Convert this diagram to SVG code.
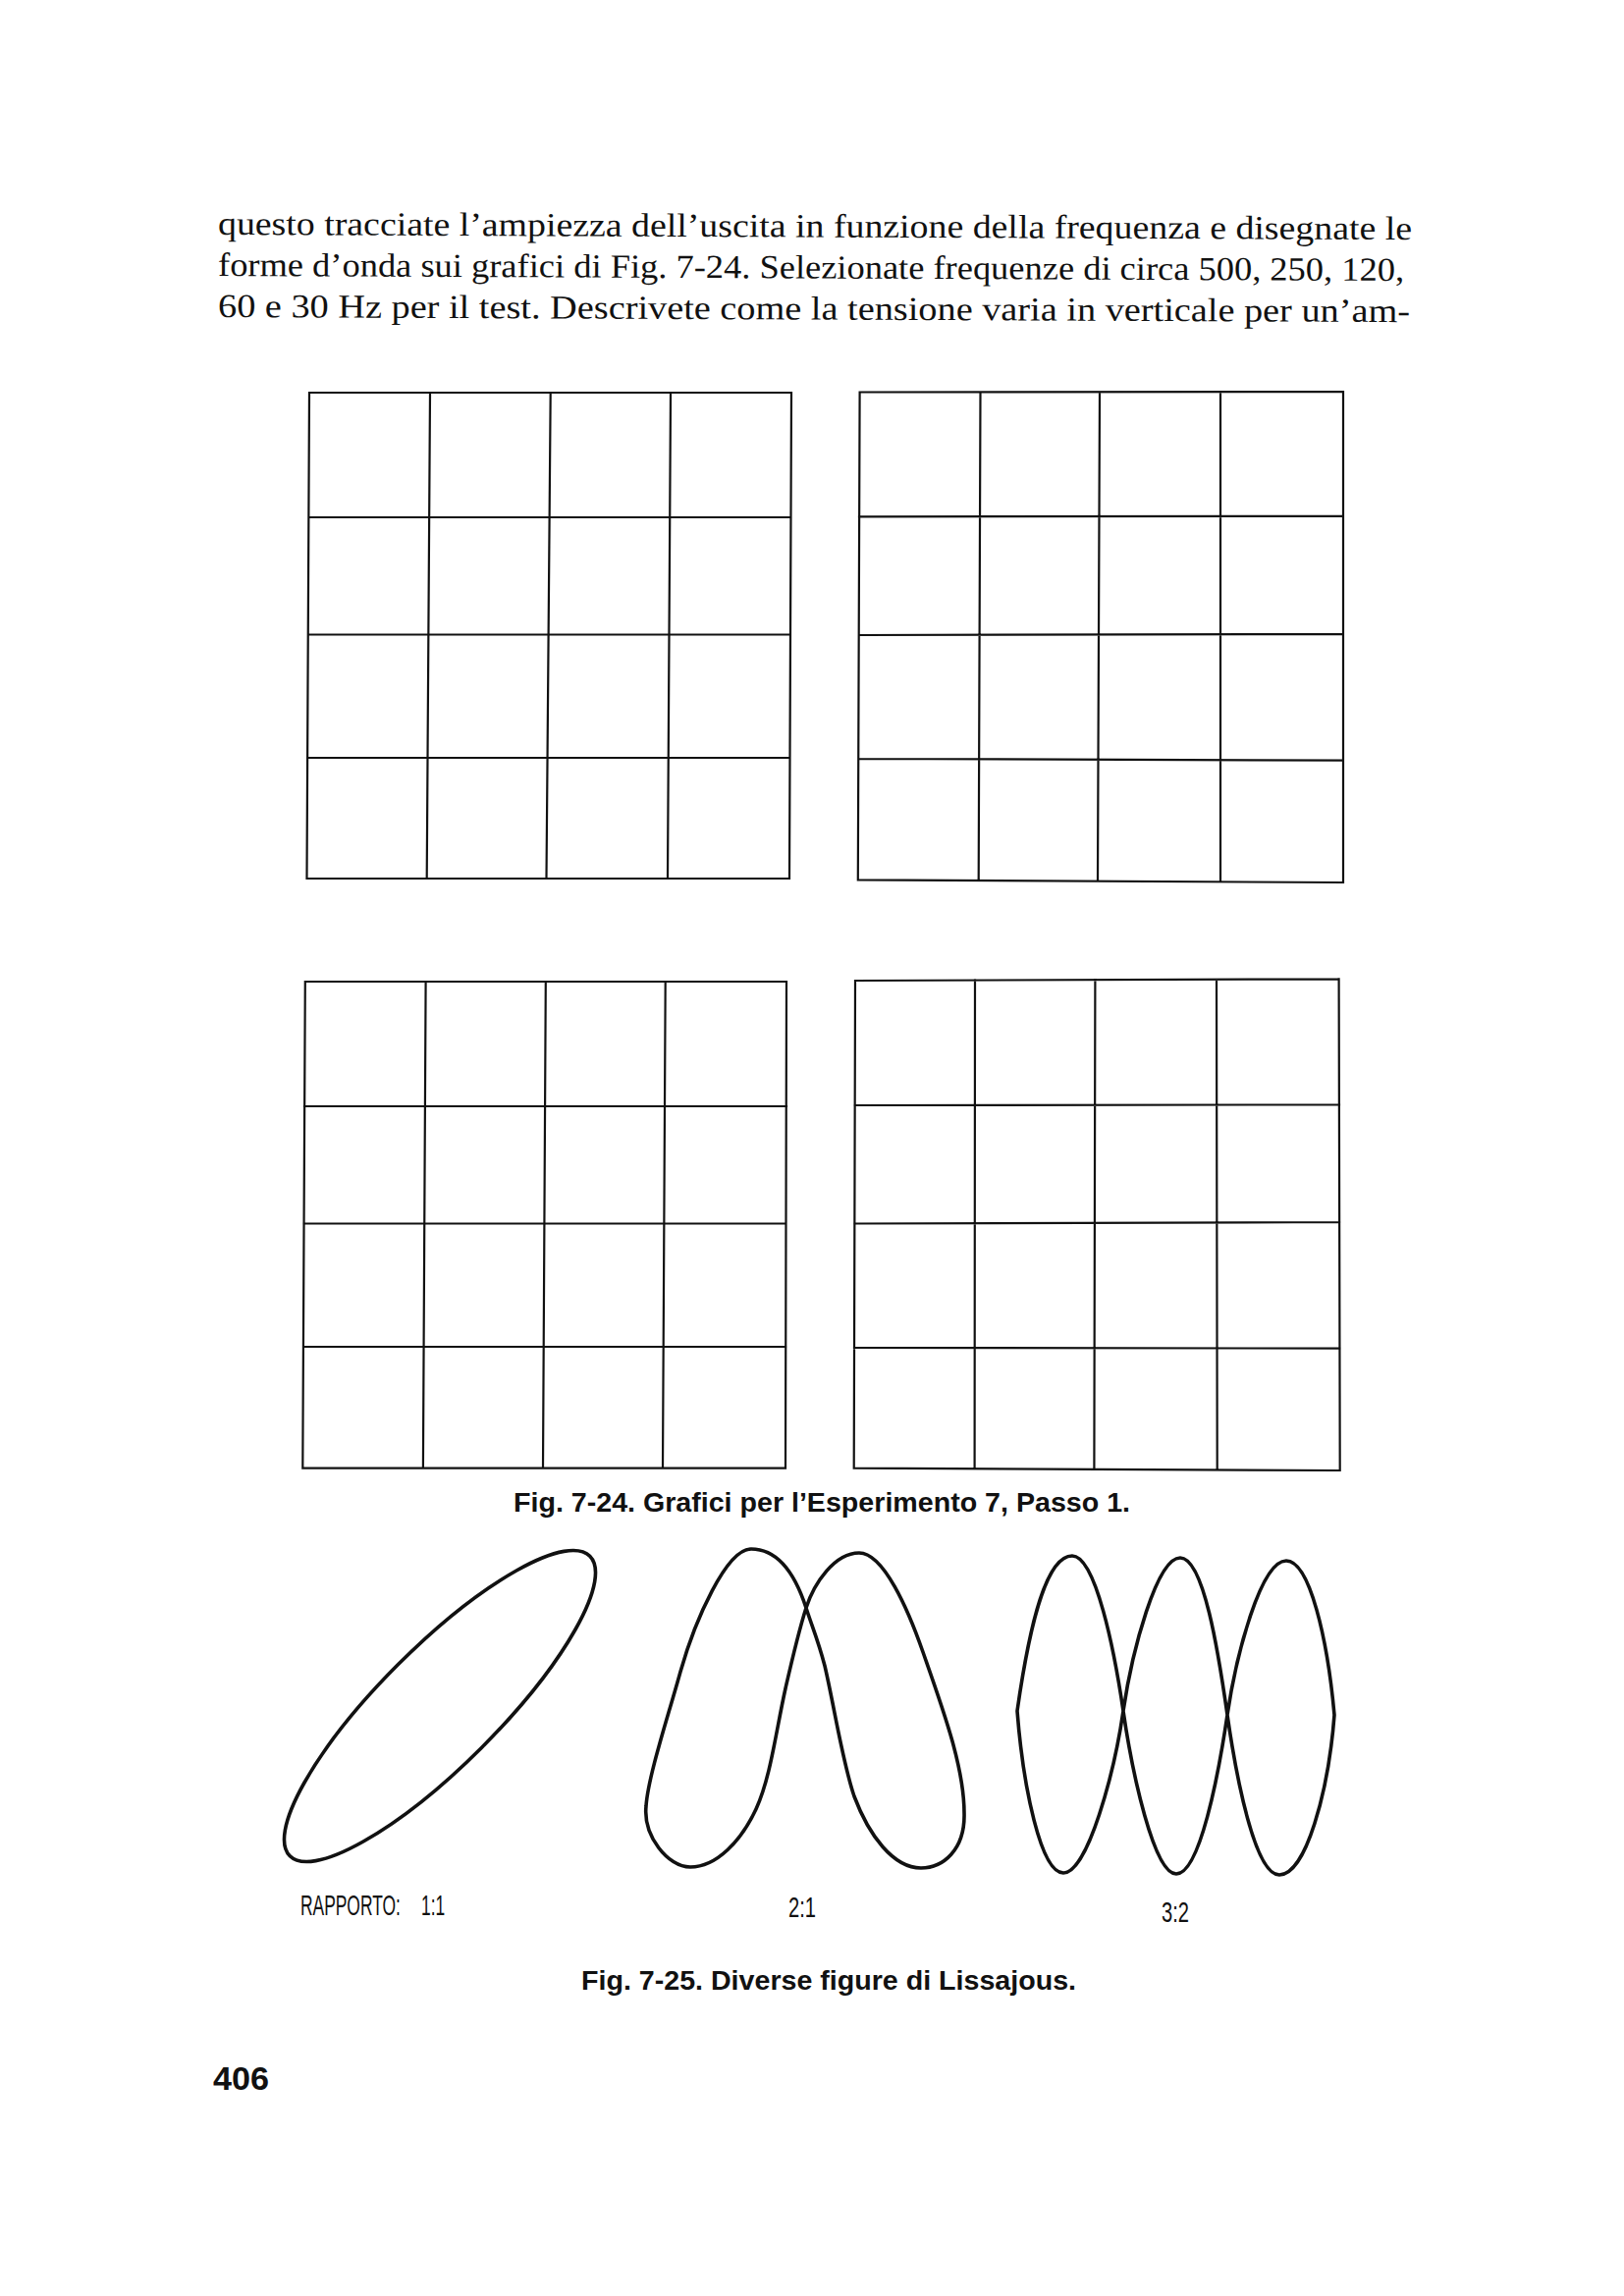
<svg xmlns="http://www.w3.org/2000/svg" width="1654" height="2339" viewBox="0 0 1654 2339">
<style>
.body{font-family:"Liberation Serif","Times New Roman",serif;font-size:34px;fill:#111}
.cap{font-family:"Liberation Sans",Arial,sans-serif;font-weight:bold;font-size:28px;fill:#111}
.lab{font-family:"Liberation Sans",Arial,sans-serif;font-size:29px;fill:#111}
.pg{font-family:"Liberation Sans",Arial,sans-serif;font-weight:bold;font-size:33px;fill:#111}
.grid{fill:none;stroke:#111;stroke-width:2.2;stroke-linecap:square}
.curve{fill:none;stroke:#111;stroke-width:3.6;stroke-linejoin:round}
</style>
<rect width="1654" height="2339" fill="#ffffff"/>
<g id="paragraph">
<text class="body" x="222" y="239" textLength="1216" lengthAdjust="spacingAndGlyphs" transform="rotate(0.24 222 239)">questo tracciate l’ampiezza dell’uscita in funzione della frequenza e disegnate le</text>
<text class="body" x="222" y="281" textLength="1208" lengthAdjust="spacingAndGlyphs" transform="rotate(0.24 222 281)">forme d’onda sui grafici di Fig. 7-24. Selezionate frequenze di circa 500, 250, 120,</text>
<text class="body" x="222" y="323" textLength="1214" lengthAdjust="spacingAndGlyphs" transform="rotate(0.24 222 323)">60 e 30 Hz per il test. Descrivete come la tensione varia in verticale per un’am-</text>
</g>
<g id="grid1">
<path class="grid" d="M315,400 L806,400 M312.5,895 L804,895 M315,400 L312.5,895 M806,400 L804,895 M438,400 L434.7,895 M560.7,400 L556.5,895 M683,400 L680,895 M314.4,527 L805.5,527 M313.8,646.5 L805,646.5 M313.2,772 L804.5,772"/>
</g>
<g id="grid2">
<path class="grid" d="M875.6,399.5 L1368,399 M873.8,896.4 L1368,899 M875.6,399.5 L873.8,896.4 M1368,399 L1368,899 M998.5,399.5 L996.7,897 M1120,399.3 L1118,897.5 M1243,399.2 L1243,898 M875,526.4 L1368,525.7 M874.7,647 L1368,646 M874.3,773 L1368,774.6"/>
</g>
<g id="grid3">
<path class="grid" d="M310.8,1000 L801,1000 M308.3,1495.7 L800,1495.7 M310.8,1000 L308.3,1495.7 M801,1000 L800,1495.7 M433.6,1000 L430.9,1495.7 M555.8,1000 L553,1495.7 M677.7,1000 L675,1495.7 M310,1127 L801,1127 M309.5,1246.5 L800.5,1246.5 M309,1372 L800.3,1372"/>
</g>
<g id="grid4">
<path class="grid" d="M871,999 L1363.6,997.3 M869.7,1495.7 L1364.7,1498 M871,999 L869.7,1495.7 M1363.6,997.3 L1364.7,1498 M993,998.6 L992.6,1496.3 M1115.4,998.2 L1114.4,1496.9 M1239,997.8 L1239.7,1497.5 M870.6,1126 L1364,1125.4 M870.3,1246.5 L1364.2,1245 M870,1373 L1364.5,1373.6"/>
</g>
<g id="caption-7-24">
<text class="cap" x="523" y="1540" textLength="628" lengthAdjust="spacingAndGlyphs">Fig. 7-24. Grafici per l’Esperimento 7, Passo 1.</text>
</g>
<g id="lissajous-1-1">
<ellipse class="curve" cx="448" cy="1738" rx="216" ry="60" transform="rotate(-45 448 1738)"/>
<text class="lab" transform="translate(306 1951) scale(0.6 1)"><tspan x="0">RAPPORTO:</tspan><tspan x="205">1:1</tspan></text>
</g>
<g id="lissajous-2-1">
<path class="curve" d="M821,1638 C808,1598 790,1578 765,1578 C740,1578 708,1650 693,1703 C680,1750 660,1810 658,1840 C655,1870 680,1902 703,1902 C730,1902 755,1875 770,1843 C785,1810 790,1765 800,1720 C808,1685 813,1663 821,1638 C829,1613 850,1582 875,1582 C900,1582 925,1640 940,1683 C960,1740 982,1800 982,1847 C983,1885 960,1903 938,1903 C910,1903 885,1870 870,1830 C858,1795 850,1740 840,1697 C833,1670 827,1657 821,1638 Z"/>
<text class="lab" x="803" y="1953" textLength="28" lengthAdjust="spacingAndGlyphs">2:1</text>
</g>
<g id="lissajous-3-2">
<path class="curve" d="M1036,1743 C1049,1652 1066,1585 1092,1585 C1116,1585 1135,1682 1144,1743 C1153,1805 1175,1909 1198,1909 C1222,1909 1241,1808 1250,1747 C1259,1686 1284,1590 1310,1590 C1334,1590 1352,1670 1359,1747 C1353,1825 1330,1910 1303,1910 C1278,1910 1259,1810 1250,1747 C1241,1684 1226,1587 1202,1587 C1178,1587 1153,1682 1144,1743 C1135,1805 1108,1908 1083,1908 C1060,1908 1042,1820 1036,1743 Z"/>
<text class="lab" x="1183" y="1958" textLength="28" lengthAdjust="spacingAndGlyphs">3:2</text>
</g>
<g id="caption-7-25">
<text class="cap" x="592" y="2027" textLength="504" lengthAdjust="spacingAndGlyphs">Fig. 7-25. Diverse figure di Lissajous.</text>
</g>
<g id="page-number">
<text class="pg" x="217" y="2129" textLength="57" lengthAdjust="spacingAndGlyphs">406</text>
</g>
<g id="connectors"/>
</svg>
